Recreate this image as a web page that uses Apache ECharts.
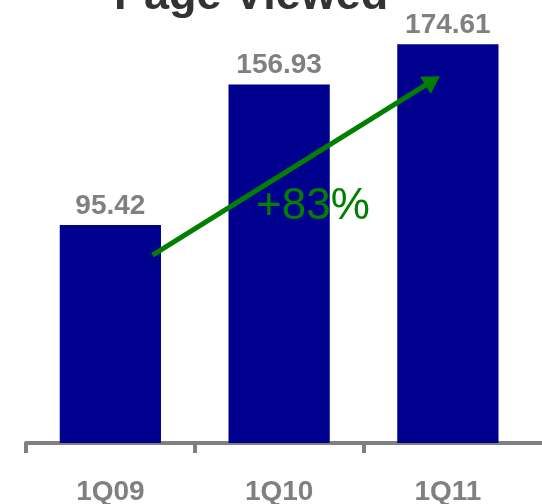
<!DOCTYPE html>
<html>
<head>
<meta charset="utf-8">
<script src="https://cdn.jsdelivr.net/npm/echarts@6/dist/echarts.min.js"></script>
<style>
  html, body { margin: 0; padding: 0; background: #ffffff; }
  #chart { width: 542px; height: 504px; }
</style>
</head>
<body>
<div id="chart"></div>
<script>
// Quarterly page views
const categories = ['1Q09', '1Q10', '1Q11'];
const pageViews = [95.42, 156.93, 174.61];
const growthLabel = '+83%';

// Trend arrow endpoints, in [category position, value] space
const arrowStart = [0.25, 82.3];
const arrowEnd = [1.91, 158.6];
// Anchor of the growth label, same space
const growthAnchor = [1.2, 103.3];

const GREY = '#808080';
const NAVY = '#00008f';
const GREEN = '#008000';

// One empty slot after the last quarter keeps the axis running off the edge
const axisCategories = categories.concat(['']);
const barData = pageViews.concat(['-']);

const chart = echarts.init(document.getElementById('chart'), null, { renderer: 'canvas' });

chart.setOption({
  animation: false,
  backgroundColor: '#ffffff',
  title: {
    text: 'Page Viewed',
    left: 109,
    top: -31,
    textStyle: {
      fontFamily: 'Liberation Sans, Arial, sans-serif',
      fontSize: 45,
      fontWeight: 'bold',
      color: '#333333'
    }
  },
  grid: {
    left: 26, width: 675, top: 9, height: 434,
    containLabel: false,
    outerBoundsMode: 'none'
  },
  xAxis: [
    {
      type: 'category',
      data: axisCategories,
      boundaryGap: true,
      axisLine: { show: true, lineStyle: { color: GREY, width: 4 } },
      axisTick: {
        show: true,
        length: 10,
        interval: function (index) { return index < categories.length; },
        lineStyle: { color: GREY, width: 4 }
      },
      axisLabel: {
        margin: 35,
        fontFamily: 'Liberation Sans, Arial, sans-serif',
        fontSize: 28,
        fontWeight: 'bold',
        color: GREY
      },
      splitLine: { show: false }
    },
    {
      type: 'value',
      min: -0.5,
      max: axisCategories.length - 0.5,
      show: false
    }
  ],
  yAxis: {
    type: 'value',
    min: 0,
    max: 190,
    show: false,
    splitLine: { show: false }
  },
  series: [
    {
      type: 'bar',
      data: barData,
      barWidth: '60%',
      itemStyle: { color: NAVY },
      label: {
        show: true,
        position: 'top',
        distance: 5,
        fontFamily: 'Liberation Sans, Arial, sans-serif',
        fontSize: 28,
        fontWeight: 'bold',
        color: GREY,
        formatter: function (p) { return p.value.toFixed(2); }
      }
    },
    {
      type: 'line',
      xAxisIndex: 1,
      data: [],
      silent: true,
      markLine: {
        silent: true,
        symbol: ['none', 'triangle'],
        symbolSize: [20, 17],
        lineStyle: { color: GREEN, width: 5, type: 'solid' },
        label: { show: false },
        data: [[{ coord: arrowStart }, { coord: arrowEnd }]]
      },
      markPoint: {
        silent: true,
        symbol: 'circle',
        symbolSize: 0,
        label: {
          show: true,
          position: 'inside',
          formatter: growthLabel,
          fontFamily: 'Liberation Sans, Arial, sans-serif',
          fontSize: 44,
          fontWeight: 'normal',
          color: GREEN
        },
        data: [{ coord: growthAnchor }]
      }
    }
  ]
});
</script>
</body>
</html>
